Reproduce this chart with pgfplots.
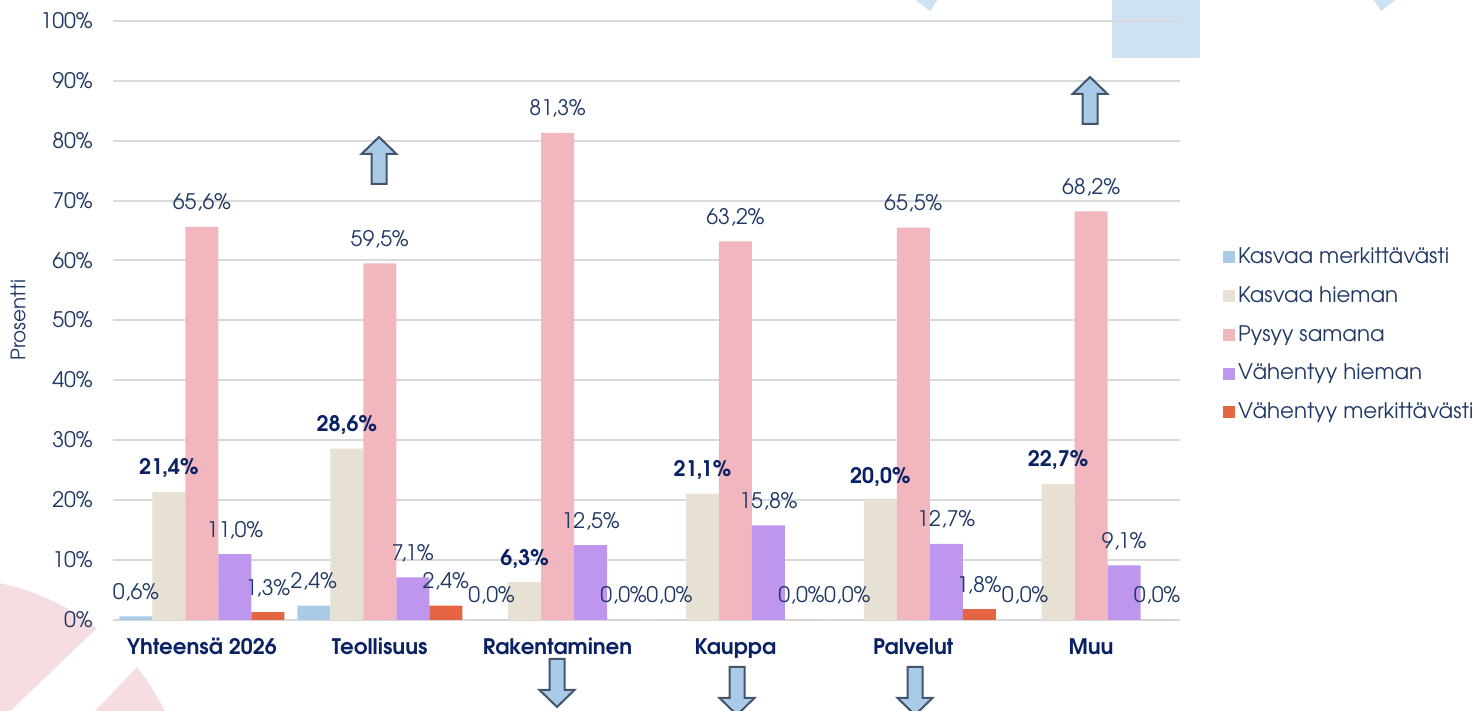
\documentclass[border=0pt]{standalone}
\usepackage{fontspec}
\setmainfont{texgyreadventor}[Extension=.otf, UprightFont=*-regular, BoldFont=*-bold, ItalicFont=*-italic, BoldItalicFont=*-bolditalic]
\usepackage{pgfplots}
\pgfplotsset{compat=1.18}
\definecolor{cA}{HTML}{A9CBE8}
\definecolor{cB}{HTML}{E7E1D4}
\definecolor{cC}{HTML}{F2B6BE}
\definecolor{cD}{HTML}{BE96EE}
\definecolor{cE}{HTML}{E56441}
\definecolor{navy}{HTML}{203864}
\definecolor{navyb}{HTML}{0A2263}
\definecolor{gridc}{HTML}{D9D9D9}
\definecolor{pinkbg}{HTML}{F6DDE1}
\definecolor{bluebg}{HTML}{CFE2F3}
\definecolor{arrowfill}{HTML}{A9CBE8}
\definecolor{arrowdraw}{HTML}{44546A}
\pgfkeys{/pgf/number format/assume math mode=true}
\newcommand{\fs}{\fontsize{10.7pt}{12.5pt}\selectfont}
\begin{document}
\begin{tikzpicture}[x=0.5pt,y=0.5pt]
\path[use as bounding box] (0,0) rectangle (1477,711);
\begin{scope}
\clip (0,0) rectangle (1477,711);
\fill[pinkbg] (-50,-107) circle (240);
\fill[white] (-20,-29) -- (271,249) -- (347,264) -- (70,-26) -- cycle;
\fill[bluebg] (1112,653) rectangle (1200,715);
\fill[bluebg] (910,715) -- (940,715) -- (930,700) -- cycle;
\fill[bluebg] (1371,715) -- (1401,715) -- (1381,700) -- cycle;
\end{scope}
\begin{axis}[
  at={(56.5pt,45.5pt)}, anchor=south west,
  scale only axis, width=533.5pt, height=299.6pt,
  xmin=-0.5, xmax=5.5, ymin=0, ymax=100,
  ybar=0pt, bar width=16.5pt,
  clip=false,
  axis line style={draw=none},
  major tick length=0pt,
  ymajorgrids, grid style={gridc, line width=1pt},
  xtick={0,1,2,3,4,5},
  xticklabels={Yhteensä 2026, Teollisuus, Rakentaminen, Kauppa, Palvelut, Muu},
  xticklabel style={font=\fs\bfseries, text=navyb, anchor=base, inner sep=0pt, yshift=-17.25pt},
  ytick={0,10,...,100},
  yticklabel={\pgfmathprintnumber[fixed,precision=0]{\tick}\%},
  yticklabel style={font=\fs, text=navy, anchor=base east, inner sep=0pt, xshift=-10pt, yshift=-3.8pt},
  ylabel={Prosentti},
  ylabel style={at={(axis description cs:-0.089,0.5)}, anchor=center, font=\fontsize{10pt}{12pt}\selectfont, text=navy},
  nodes near coords={\pgfmathprintnumber[fixed,fixed zerofill,precision=1,use comma]{\pgfplotspointmeta}\%},
  every node near coord/.append style={font=\fs, text=navy, anchor=base, inner sep=0pt, yshift=8.5pt},
  every axis plot/.append style={draw=none, legend image code/.code={\fill[##1] (0pt,-3pt) rectangle (6pt,3pt); \path (7.2pt,0pt);}},
  legend style={at={(1.0395,0.476)}, anchor=west, draw=none, fill=none, font=\fs, text=navy, row sep=8.8pt, inner sep=0pt, nodes={inner sep=0.6pt}},
  legend cell align=left,
]
\addplot[fill=cA] coordinates {(0,0.6) (1,2.4) (2,0) (3,0) (4,0) (5,0)};
\addplot[fill=cB, every node near coord/.append style={font=\fs\bfseries, text=navyb}] coordinates {(0,21.4) (1,28.6) (2,6.3) (3,21.1) (4,20.0) (5,22.7)};
\addplot[fill=cC] coordinates {(0,65.6) (1,59.5) (2,81.3) (3,63.2) (4,65.5) (5,68.2)};
\addplot[fill=cD] coordinates {(0,11.0) (1,7.1) (2,12.5) (3,15.8) (4,12.7) (5,9.1)};
\addplot[fill=cE] coordinates {(0,1.3) (1,2.4) (2,0.0) (3,0.0) (4,1.8) (5,0.0)};
\legend{Kasvaa merkittävästi, Kasvaa hieman, Pysyy samana, Vähentyy hieman, Vähentyy merkittävästi}
\end{axis}
% arrows (decoration)
\begin{scope}[line width=1pt, draw=arrowdraw, fill=arrowfill, line join=miter]
\filldraw (379,574) -- (396.5,557) -- (386.5,557) -- (386.5,527) -- (371.5,527) -- (371.5,557) -- (361.5,557) -- cycle;
\filldraw (1090,634) -- (1107.5,617) -- (1097.5,617) -- (1097.5,587) -- (1082.5,587) -- (1082.5,617) -- (1072.5,617) -- cycle;
\filldraw (557,4) -- (574.5,21) -- (564.5,21) -- (564.5,52) -- (549.5,52) -- (549.5,21) -- (539.5,21) -- cycle;
\filldraw (737,-4) -- (754.5,13) -- (744.5,13) -- (744.5,44) -- (729.5,44) -- (729.5,13) -- (719.5,13) -- cycle;
\filldraw (915,-4) -- (932.5,13) -- (922.5,13) -- (922.5,44) -- (907.5,44) -- (907.5,13) -- (897.5,13) -- cycle;
\end{scope}
\end{tikzpicture}
\end{document}
